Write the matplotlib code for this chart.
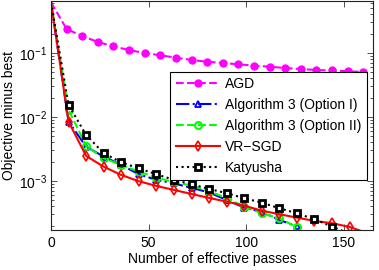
import matplotlib
matplotlib.use("Agg")
import matplotlib.pyplot as plt
import numpy as np
from matplotlib.ticker import LogLocator, FixedLocator, NullFormatter

plt.rcParams['font.family'] = ['Liberation Sans', 'DejaVu Sans']
plt.rcParams['mathtext.fontset'] = 'custom'
plt.rcParams['mathtext.rm'] = 'Liberation Sans'
plt.rcParams['mathtext.it'] = 'Liberation Sans:italic'

# ---- data ----
agd_x = list(range(0, 161, 8))
agd_y = [0.62, 0.237, 0.184, 0.149, 0.127, 0.111, 0.100, 0.092, 0.0845, 0.0778,
         0.0731, 0.0698, 0.0666, 0.0634, 0.0611, 0.0583, 0.0562, 0.0542, 0.0533,
         0.0518, 0.0505]

alg1_x = list(range(0, 127, 9))
alg1_y = [0.62, 8.45e-3, 3.43e-3, 2.40e-3, 1.78e-3, 1.27e-3, 1.04e-3, 9.14e-4,
          7.78e-4, 6.61e-4, 5.05e-4, 3.83e-4, 3.31e-4, 2.46e-4, 1.95e-4]

alg2_x = list(range(0, 127, 9))
alg2_y = [0.62, 1.29e-2, 3.52e-3, 2.27e-3, 1.78e-3, 1.40e-3, 1.13e-3, 9.55e-4,
          8.5e-4, 6.98e-4, 5.37e-4, 3.96e-4, 3.13e-4, 2.61e-4, 1.89e-4]

vr_x = list(range(0, 163, 9))
vr_y = [0.62, 8.45e-3, 2.46e-3, 1.67e-3, 1.24e-3, 9.89e-4, 8.35e-4, 7.23e-4,
        6.26e-4, 5.42e-4, 4.75e-4, 4.11e-4, 3.43e-4, 3.02e-4, 2.67e-4, 2.37e-4,
        2.18e-4, 1.91e-4, 1.53e-4]

katy_x = list(range(0, 154, 9))
katy_y = [0.62, 1.54e-2, 5.23e-3, 2.71e-3, 1.95e-3, 1.57e-3, 1.27e-3, 1.04e-3,
          8.88e-4, 7.50e-4, 6.43e-4, 5.37e-4, 4.58e-4, 3.74e-4, 3.12e-4, 2.52e-4,
          1.93e-4, 1.5e-4]

labels = ['AGD', 'Algorithm 3 (Option I)', 'Algorithm 3 (Option II)', 'VR\u2212SGD', 'Katyusha']
xticks = [0, 50, 100, 150]

fig = plt.figure(figsize=(3.79, 2.70), dpi=100)
ax = fig.add_axes([51/379, 1 - 230/270, 322/379, 229/270])

lw = 1.5
ax.plot(agd_x, agd_y, color='#ff00ff', ls='--', lw=lw, marker='o', ms=5,
        mfc='#ff00ff', mec='#ff00ff', markevery=slice(1, None), label=labels[0])
ax.plot(alg1_x, alg1_y, color='#0000ff', ls='-.', lw=lw, marker='^', ms=5,
        mfc='none', mec='#0000ff', mew=1.3, markevery=slice(1, None), label=labels[1])
ax.plot(alg2_x, alg2_y, color='#00ff00', ls='--', lw=lw, marker='o', ms=5,
        mfc='none', mec='#00ff00', mew=1.5, markevery=slice(1, None), label=labels[2])
ax.plot(vr_x, vr_y, color='#ff0000', ls='-', lw=lw, marker='d', ms=5.5,
        mfc='none', mec='#ff0000', mew=1.2, markevery=slice(1, -1), label=labels[3])
ax.plot(katy_x, katy_y, color='black', ls=':', lw=lw, marker='s', ms=5,
        mfc='white', mec='black', mew=2.0, markevery=slice(1, -1), label=labels[4])

ax.set_yscale('log')
ax.set_xlim(0, 165)
ax.set_ylim(1.71e-4, 0.65)
ax.xaxis.set_major_locator(FixedLocator(xticks))
ax.set_xticklabels([str(t) for t in xticks])
ax.yaxis.set_major_locator(LogLocator(base=10, numticks=10))
ax.yaxis.set_minor_locator(LogLocator(base=10, subs=np.arange(2, 10), numticks=10))
ax.yaxis.set_minor_formatter(NullFormatter())

ax.tick_params(which='both', direction='in', top=True, right=True, labelsize=10,
               width=0.6, color='#333333')
ax.tick_params(which='major', length=4, pad=3)
ax.tick_params(axis='x', which='major', pad=4.5)
ax.tick_params(which='minor', length=2)
for s in ax.spines.values():
    s.set_linewidth(0.8)
    s.set_color('#222222')

ax.set_xlabel('Number of effective passes', fontsize=10, labelpad=1)
ax.set_ylabel('Objective minus best', fontsize=10, labelpad=2)

leg = ax.legend(loc='upper right', bbox_to_anchor=(0.98, 0.692), fontsize=10,
                handlelength=3.2, labelspacing=0.5, borderpad=0.4,
                handletextpad=0.3, fancybox=False, framealpha=1,
                edgecolor='black', borderaxespad=0)
leg.get_frame().set_linewidth(0.8)

fig.savefig('out.png', dpi=100)
